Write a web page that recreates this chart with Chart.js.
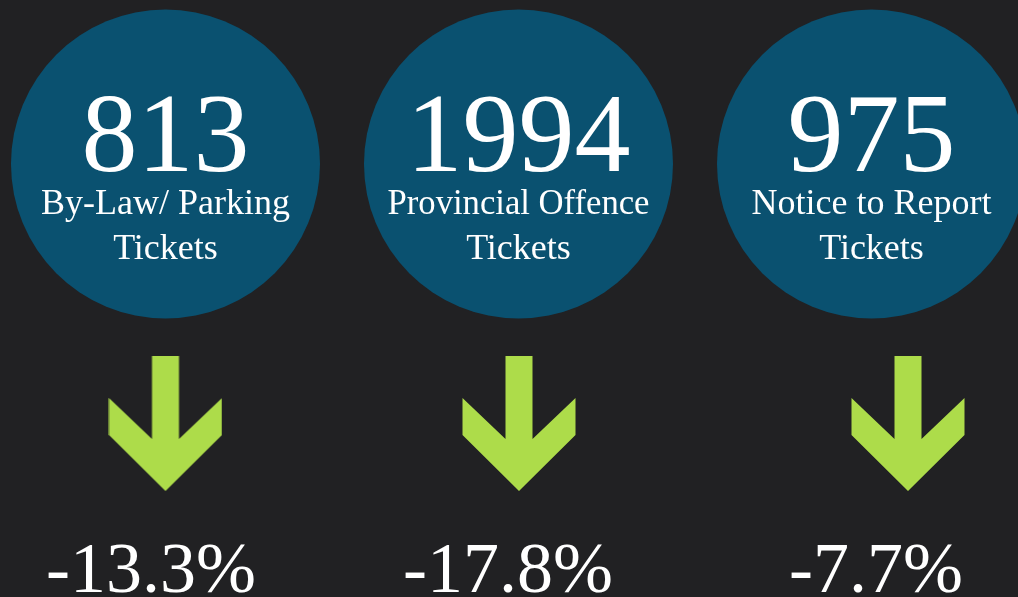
<!DOCTYPE html>
<html lang="en">
<head>
  <meta charset="UTF-8">
  <title>Tickets</title>
  <script src="https://cdn.jsdelivr.net/npm/chart.js"></script>
  <style>
    html, body { margin: 0; padding: 0; background: #212123; overflow: hidden; }
    .chart-container { width: 1018px; height: 597px; }
  </style>
</head>
<body>
  <div class="chart-container">
    <canvas id="chartCanvas" width="1018" height="597"></canvas>
  </div>

  <script>
    // data
    const ticketCounts = [813, 1994, 975];
    const ticketTypes = [
      ['By-Law/ Parking', 'Tickets'],
      ['Provincial Offence', 'Tickets'],
      ['Notice to Report', 'Tickets']
    ];
    const changePct = [-13.3, -17.8, -7.7];

    // layout (y axis runs in page pixels, x axis one unit per ticket type)
    const circleColor = '#0a5170';
    const arrowColor = '#addc4a';
    const rowY = { circle: 164, number: 171, line1: 214, line2: 259, arrow: 424, pct: 592 };
    const arrowShift = [0, 0.0014, 0.1034];
    const pctShift = [-14.5, -10.5, 4.5];

    function makeArrow() {
      const c = document.createElement('canvas');
      c.width = 114;
      c.height = 136;
      const g = c.getContext('2d');
      g.fillStyle = arrowColor;
      g.beginPath();
      g.moveTo(43.5, 0);
      g.lineTo(70.5, 0);
      g.lineTo(70.5, 83);
      g.lineTo(113.5, 42);
      g.lineTo(113.5, 79);
      g.lineTo(57, 135);
      g.lineTo(0.5, 79);
      g.lineTo(0.5, 42);
      g.lineTo(43.5, 83);
      g.closePath();
      g.fill();
      return c;
    }

    const labelPlugin = {
      id: 'ticketLabels',
      afterDatasetsDraw(chart) {
        const { ctx, scales: { x, y } } = chart;
        ctx.save();
        ctx.fillStyle = '#ffffff';
        ctx.textAlign = 'center';
        ctx.textBaseline = 'alphabetic';
        ticketCounts.forEach((v, i) => {
          const px = x.getPixelForValue(i);
          ctx.font = '112px "Liberation Serif"';
          ctx.fillText(String(v), px, y.getPixelForValue(rowY.number));
          ctx.font = '36px "Liberation Serif"';
          ctx.fillText(ticketTypes[i][0], px, y.getPixelForValue(rowY.line1), 262);
          ctx.fillText(ticketTypes[i][1], px, y.getPixelForValue(rowY.line2));
          ctx.font = '72px "Liberation Serif"';
          ctx.fillText(changePct[i].toFixed(1) + '%', px + pctShift[i], y.getPixelForValue(rowY.pct));
        });
        ctx.restore();
      }
    };

    const ctx = document.getElementById('chartCanvas').getContext('2d');
    const chart = new Chart(ctx, {
      type: 'scatter',
      data: {
        datasets: [{
          label: 'Tickets',
          data: ticketCounts.map((v, i) => ({ x: i, y: rowY.circle })),
          pointRadius: 154.5,
          pointBackgroundColor: circleColor,
          pointBorderWidth: 0,
          clip: false
        }, {
          label: 'Change',
          data: changePct.map((v, i) => ({ x: i + arrowShift[i], y: rowY.arrow })),
          pointStyle: makeArrow(),
          clip: false
        }]
      },
      options: {
        responsive: false,
        animation: false,
        events: [],
        layout: { padding: 0, autoPadding: false },
        plugins: {
          legend: { display: false },
          tooltip: { enabled: false }
        },
        scales: {
          x: { type: 'linear', display: false, min: -0.4688, max: 2.415 },
          y: { type: 'linear', display: false, min: 0, max: 597, reverse: true }
        }
      },
      plugins: [labelPlugin]
    });
  </script>
</body>
</html>
